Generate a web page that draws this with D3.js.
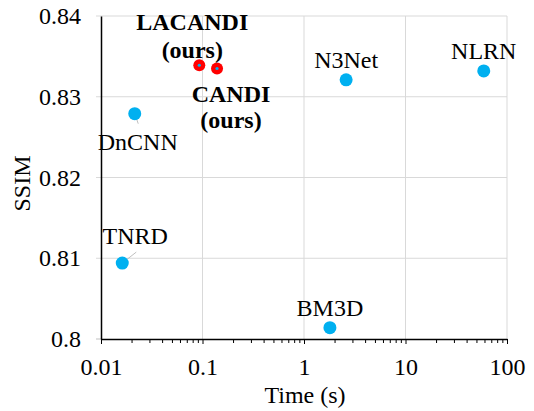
<!DOCTYPE html>
<html>
<head>
<meta charset="utf-8">
<script src="https://cdn.jsdelivr.net/npm/d3@7"></script>
<style>
  body { margin: 0; background: #fff; }
  text { font-family: 'Liberation Serif', 'Times New Roman', serif; }
</style>
</head>
<body>
<div id="chart"></div>
<script>
// data
const methods = ['LACANDI', 'CANDI', 'DnCNN', 'N3Net', 'NLRN', 'TNRD', 'BM3D']
const timeSec = [0.093, 0.139, 0.0215, 2.6, 59, 0.0162, 1.8]
const ssim = [0.8339, 0.8335, 0.8279, 0.8321, 0.8332, 0.8094, 0.8014]
const ours = [true, true, false, false, false, false, false]
const xTicks = [0.01, 0.1, 1, 10, 100]
const yTicks = [0.8, 0.81, 0.82, 0.83, 0.84]

// label placement relative to each point (dx, dy of text baseline)
const labelOffsets = {
  LACANDI: { dx: -7, dy: -35, gap: 28, lines: ['LACANDI', '(ours)'] },
  CANDI: { dx: 14, dy: 34, gap: 26, lines: ['CANDI', '(ours)'] },
  DnCNN: { dx: 3, dy: 36, lines: ['DnCNN'], leader: [3.5, 10] },
  N3Net: { dx: 0, dy: -12, lines: ['N3Net'] },
  NLRN: { dx: 0, dy: -12, lines: ['NLRN'] },
  TNRD: { dx: 13, dy: -19, lines: ['TNRD'], leader: [14, -11] },
  BM3D: { dx: 0, dy: -12, lines: ['BM3D'] },
}

const width = 534
const height = 411
const margin = { top: 16, right: 27, bottom: 72, left: 101 }
const innerW = width - margin.left - margin.right
const innerH = height - margin.top - margin.bottom

const blue = '#00b0f0'
const red = '#ff0000'
const fontSize = 24

const svg = d3
  .select('#chart')
  .append('svg')
  .attr('width', width)
  .attr('height', height)

const g = svg
  .append('g')
  .attr('transform', `translate(${margin.left}, ${margin.top})`)

const xScale = d3.scaleLog().domain([0.01, 100]).range([0, innerW])
const yScale = d3.scaleLinear().domain([0.8, 0.84]).range([innerH, 0])

// gridlines
g.append('g')
  .attr('class', 'grid')
  .selectAll('line.hgrid')
  .data(yTicks.slice(1))
  .join('line')
  .attr('x1', -5)
  .attr('x2', innerW)
  .attr('y1', d => yScale(d))
  .attr('y2', d => yScale(d))
  .attr('stroke', '#d9d9d9')
  .attr('stroke-width', 1)

g.append('line')
  .attr('x1', -5)
  .attr('x2', 0)
  .attr('y1', innerH)
  .attr('y2', innerH)
  .attr('stroke', '#bfbfbf')

g.append('g')
  .selectAll('line.vgrid')
  .data(xTicks.slice(1))
  .join('line')
  .attr('x1', d => xScale(d))
  .attr('x2', d => xScale(d))
  .attr('y1', 0)
  .attr('y2', innerH)
  .attr('stroke', '#d9d9d9')
  .attr('stroke-width', 1)

// x axis: major ticks with labels plus log minor ticks
const minorTicks = xScale.ticks().filter(t => !xTicks.includes(t))
g.append('g')
  .attr('transform', `translate(0, ${innerH})`)
  .call(d3.axisBottom(xScale).tickValues(minorTicks).tickSize(4).tickFormat(''))
  .call(ax => {
    ax.select('.domain').remove()
    ax.selectAll('.tick line').attr('stroke', '#000')
  })

g.append('g')
  .attr('transform', `translate(0, ${innerH})`)
  .call(
    d3
      .axisBottom(xScale)
      .tickValues(xTicks)
      .tickSize(5)
      .tickSizeOuter(0)
      .tickFormat(d => d3.format('~g')(d)),
  )
  .call(ax => {
    ax.select('.domain').attr('stroke', '#000').attr('stroke-width', 1.5)
    ax.selectAll('.tick line').attr('stroke', '#000')
    ax.selectAll('.tick text')
      .attr('font-size', fontSize)
      .attr('fill', '#000')
      .attr('dy', '1.15em')
  })

// y axis
g.append('g')
  .call(d3.axisLeft(yScale).tickValues(yTicks).tickSize(0).tickPadding(20).tickFormat(d => d3.format('~g')(d)))
  .call(ax => {
    ax.select('.domain').attr('stroke', '#000').attr('stroke-width', 1.5)
    ax.selectAll('.tick text').attr('font-size', fontSize).attr('fill', '#000')
  })

// axis titles
svg
  .append('text')
  .attr('x', 305)
  .attr('y', 403)
  .attr('text-anchor', 'middle')
  .attr('font-size', fontSize)
  .text('Time (s)')

svg
  .append('text')
  .attr('transform', `translate(30, ${margin.top + innerH / 2 + 6}) rotate(-90)`)
  .attr('text-anchor', 'middle')
  .attr('font-size', fontSize)
  .text('SSIM')

const points = methods.map((m, i) => ({
  name: m,
  t: timeSec[i],
  s: ssim[i],
  ours: ours[i],
}))

// leader lines
g.append('g')
  .selectAll('line.leader')
  .data(points.filter(d => labelOffsets[d.name].leader))
  .join('line')
  .attr('x1', d => xScale(d.t))
  .attr('y1', d => yScale(d.s))
  .attr('x2', d => xScale(d.t) + labelOffsets[d.name].leader[0])
  .attr('y2', d => yScale(d.s) + labelOffsets[d.name].leader[1])
  .attr('stroke', '#bfbfbf')
  .attr('stroke-width', 1)

// markers
const marks = g.append('g').attr('class', 'marks')
marks
  .selectAll('circle.pt')
  .data(points)
  .join('circle')
  .attr('class', 'pt')
  .attr('cx', d => xScale(d.t))
  .attr('cy', d => yScale(d.s))
  .attr('r', d => (d.ours ? 6 : 6.5))
  .attr('fill', d => (d.ours ? red : blue))

marks
  .selectAll('circle.core')
  .data(points.filter(d => d.ours))
  .join('circle')
  .attr('class', 'core')
  .attr('cx', d => xScale(d.t))
  .attr('cy', d => yScale(d.s))
  .attr('r', 1.6)
  .attr('fill', blue)

// labels
const labels = g.append('g').attr('class', 'labels')
points.forEach(d => {
  const o = labelOffsets[d.name]
  const txt = labels
    .append('text')
    .attr('x', xScale(d.t) + o.dx)
    .attr('y', yScale(d.s) + o.dy)
    .attr('text-anchor', 'middle')
    .attr('font-size', fontSize)
    .attr('font-weight', d.ours ? 'bold' : 'normal')
    .attr('fill', '#000')
  o.lines.forEach((line, k) => {
    txt
      .append('tspan')
      .attr('x', xScale(d.t) + o.dx)
      .attr('dy', k === 0 ? 0 : o.gap)
      .text(line)
  })
})
</script>
</body>
</html>
